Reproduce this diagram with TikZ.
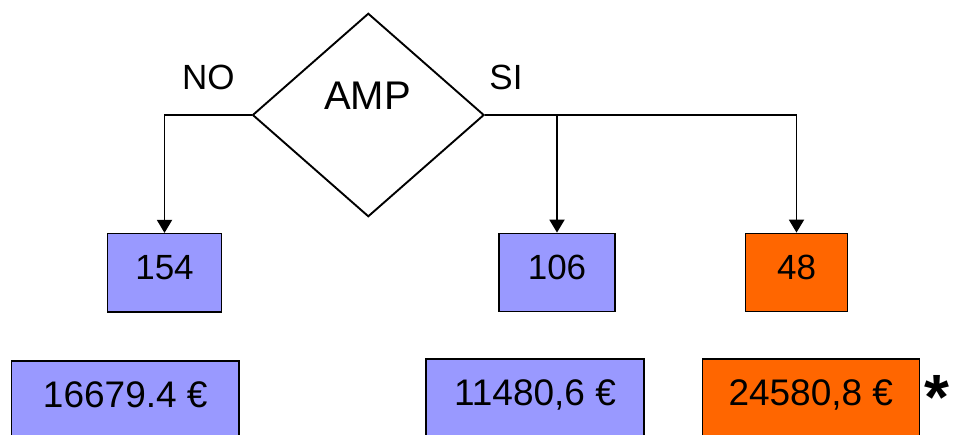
\documentclass[tikz,border=0pt]{standalone}
\usepackage{fontspec}
\setmainfont{Liberation Sans}
\usetikzlibrary{shapes.geometric,arrows.meta}
\definecolor{boxblue}{HTML}{9999FF}
\definecolor{boxorange}{HTML}{FF6600}
\begin{document}
\begin{tikzpicture}[x=1pt,y=-1pt,
  conn/.style={line width=1.9pt,-{Triangle[width=15pt,length=13pt]}},
  topbox/.style={draw,line width=1.3pt,minimum height=78.5pt,inner sep=0pt,
    font=\fontsize{35}{40}\selectfont,text height=25pt,text depth=11pt},
  botbox/.style={draw,line width=1.3pt,minimum height=100pt,inner sep=0pt,
    font=\fontsize{37}{42}\selectfont,text height=27pt,text depth=34.5pt},
  lbl/.style={inner sep=0pt,font=\fontsize{35}{40}\selectfont}
]
\clip (0,0) rectangle (955,434);
\node[draw,diamond,line width=1.9pt,inner sep=0pt,minimum width=231.6pt,minimum height=203.4pt] (d) at (368.3,115) {};
\node[inner sep=0pt,font=\fontsize{40}{44}\selectfont] (amp) at (367.5,96) {AMP};
\node[lbl] (no) at (208.3,77.5) {NO};
\node[lbl] (si) at (506,77.5) {SI};
\node[topbox,fill=boxblue,minimum width=114.4pt] (b154) at (164.5,272.8) {154};
\node[topbox,fill=boxblue,minimum width=116pt] (b106) at (557,272.5) {106};
\node[topbox,fill=boxorange,minimum width=102.3pt] (b48) at (796.5,272.5) {48};
\node[botbox,fill=boxblue,minimum width=227.3pt] (c1) at (125.3,411) {16679.4 €};
\node[botbox,fill=boxblue,minimum width=218pt] (c2) at (535,409) {11480,6 €};
\node[botbox,fill=boxorange,minimum width=217pt] (c3) at (810.8,409) {24580,8 €};
\node[font=\bfseries\fontsize{64}{64}\selectfont,anchor=base,inner sep=0pt] (star) at (937,419) {*};
\draw[conn] (d.west) -| (b154.north);
\draw[conn] (d.east) -| (b48.north);
\draw[conn] (d.east -| b106.north) -- (b106.north);
\end{tikzpicture}
\end{document}
